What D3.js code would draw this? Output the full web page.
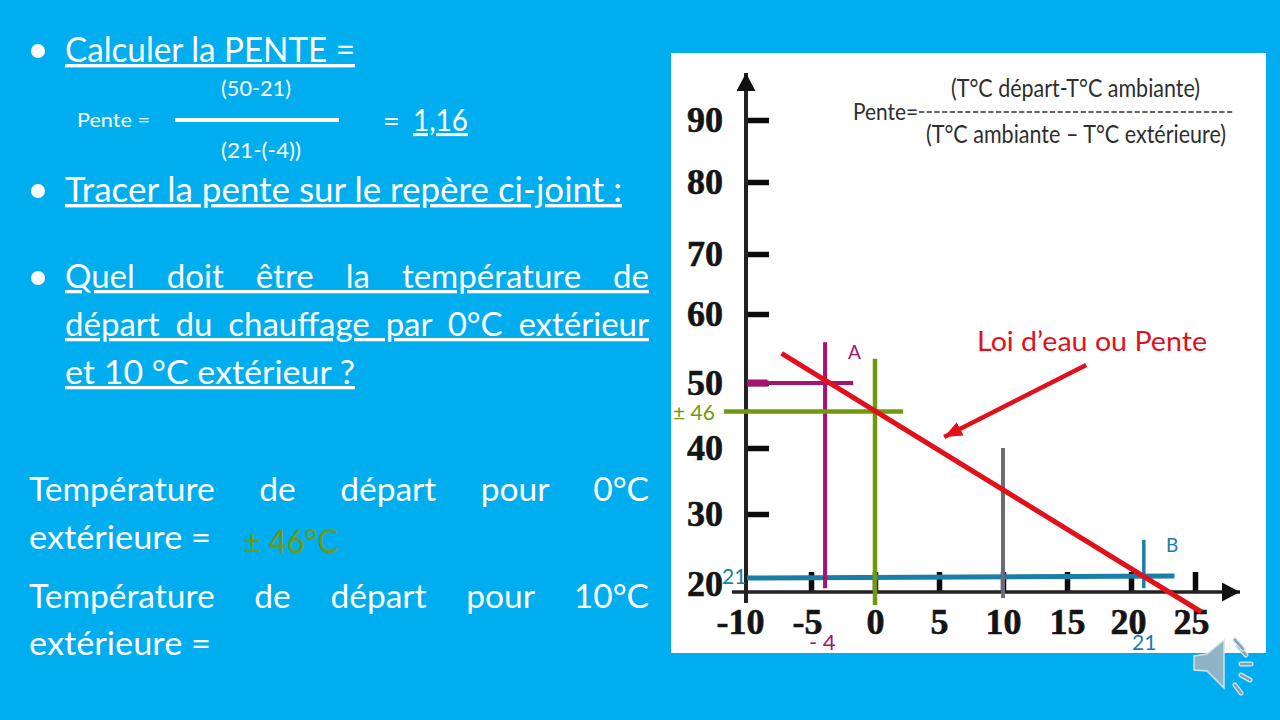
<!DOCTYPE html>
<html><head><meta charset="utf-8">
<script src="https://cdn.jsdelivr.net/npm/d3@7"></script>
<style>html,body{margin:0;padding:0;background:#00ADEF;overflow:hidden}svg{display:block}</style>
</head><body><svg id="c" width="1280" height="720"></svg>
<script>
// Values
const xTicks = [-10,-5,0,5,10,15,20,25];
const yTicks = [20,30,40,50,60,70,80,90];
const yPixelsHandDrawn = [584,514,448,383,314,254,182,120]; // the printed axis is irregular
const redLine = [[-7.3,54.3],[25.5,16]];
const redArrow = [[16.5,52.6],[5.4,41.7]];
const magentaH = [[-10,50],[-1.7,50]];
const magentaV = [[-3.9,55.9],[-3.9,19.4]];
const greenH = [[-11.8,45.6],[2.2,45.6]];
const greenV = [[0,53.5],[0,17]];
const greyV = [[10,40],[10,18]];
const blueH = [[-10,20.85],[23.4,21.15]];
const blueV = [[21,26.3],[21,19.4]];
const FONT = 'Lato, "Open Sans", sans-serif';
const C = {bg:'#00ADEF',red:'#E2101B',mag:'#A5126F',green:'#6F9A10',blue:'#1A7EA8',grey:'#6A6A78'};

const svg = d3.select('#c');
svg.append('rect').attr('width',1280).attr('height',720).attr('fill',C.bg);
svg.append('rect').attr('x',671).attr('y',53).attr('width',595).attr('height',600).attr('fill','#fff');

const defs = svg.append('defs');
[['blk','#111',18,19],['redHead',C.red,18,15]].forEach(([id,col,l,w])=>{
  defs.append('marker').attr('id',id).attr('markerUnits','userSpaceOnUse')
    .attr('viewBox',`0 0 ${l} ${w}`).attr('refX',l).attr('refY',w/2)
    .attr('markerWidth',l).attr('markerHeight',w).attr('orient','auto')
    .append('path').attr('d',`M0,0L${l},${w/2}L0,${w}Z`).attr('fill',col);
});

const x = d3.scaleLinear().domain([-10,25]).range([747,1195]);
const y = d3.scaleLinear().domain(yTicks).range(yPixelsHandDrawn);
const lineGen = d3.line().x(d=>x(d[0])).y(d=>y(d[1]));
const AX_X = 746, AX_Y = 592;

// axes
const gy = svg.append('g').attr('transform',`translate(${AX_X},0)`)
  .call(d3.axisLeft(y).tickValues(yTicks).tickSize(-23).tickPadding(23).tickFormat(d=>String(d)));
const gx = svg.append('g').attr('transform',`translate(0,${AX_Y})`)
  .call(d3.axisBottom(x).tickValues(xTicks).tickSize(-20).tickPadding(16).tickFormat(d=>String(d)));
[gy,gx].forEach(g=>{
  g.select('.domain').remove();
  g.selectAll('line').attr('stroke','#0b0b0b').attr('stroke-width',5.5);
  g.selectAll('text').attr('font-family','"Liberation Serif",serif').attr('font-weight',700)
   .attr('fill','#141414').attr('stroke','#141414').attr('stroke-width',0.6);
});
gy.selectAll('text').attr('font-size',36);
gx.selectAll('text').attr('font-size',36);
gy.selectAll('.tick').filter(d=>d===20).select('line').remove();
gx.selectAll('.tick').filter(d=>d===-10).select('line').remove();
gx.selectAll('.tick').filter(d=>d===-10).select('text').attr('dx',-7);
gx.selectAll('.tick').filter(d=>d===-5).select('text').attr('dx',-4);
gx.selectAll('.tick').filter(d=>d===20).select('text').attr('dx',-3);
gx.selectAll('.tick').filter(d=>d===25).select('text').attr('dx',-4);

svg.append('line').attr('x1',AX_X).attr('x2',AX_X).attr('y1',603).attr('y2',73)
  .attr('stroke','#222').attr('stroke-width',4).attr('marker-end','url(#blk)');
svg.append('line').attr('x1',732).attr('x2',1240).attr('y1',AX_Y).attr('y2',AX_Y)
  .attr('stroke','#222').attr('stroke-width',3.5).attr('marker-end','url(#blk)');

// guide lines
const seg=(d,col,w)=>svg.append('path').datum(d).attr('d',lineGen).attr('fill','none').attr('stroke',col).attr('stroke-width',w);
seg(blueH,C.blue,5);
seg(blueV,C.blue,3.5);
seg(greyV,C.grey,4);
seg(magentaV,C.mag,4);
seg(magentaH,C.mag,4);
seg([[-10,50],[-8.4,50]],C.mag,7);
seg(greenH,C.green,4.5);
seg(greenV,C.green,4.5);
seg(redLine,C.red,5);
seg(redArrow,C.red,4.5).attr('marker-end','url(#redHead)');

// text helpers
function txt(s,px,py,size,col,opt={}){
  const t=svg.append('text').attr('x',px).attr('y',py).attr('font-family',opt.font||FONT)
    .attr('font-size',size).attr('fill',col).text(s);
  if(opt.u) t.attr('text-decoration','underline');
  if(opt.len) t.attr('textLength',opt.len).attr('lengthAdjust','spacingAndGlyphs');
  return t;
}
function just(s,px,py,size,width,col,u){
  const t=txt(s,px,py,size,col,{u});
  const n=s.split(' ').length-1, w=t.node().getComputedTextLength();
  t.attr('word-spacing',(width-w)/n);
  return t;
}

// left column
const W='#fff';
[51,191,278].forEach(cy=>svg.append('circle').attr('cx',38).attr('cy',cy).attr('r',7).attr('fill',W));
txt('Calculer la PENTE =',65,62,34,W,{u:1,len:290});
txt('(50-21)',221,96,21,W,{len:70});
txt('Pente =',77,127,20,W,{len:73});
svg.append('line').attr('x1',175).attr('x2',339).attr('y1',120).attr('y2',120).attr('stroke',W).attr('stroke-width',4);
txt('(21-(-4))',221,158,21,W,{len:80});
txt('=',383,131,29,W);
txt('1,16',413,131,31,W,{u:1,len:55});
txt('Tracer la pente sur le repère ci-joint :',65,202,34,W,{u:1,len:557});
just('Quel doit être la température de',65,288,33,584,W,1);
just('départ du chauffage par 0°C extérieur',65,336,33,584,W,1);
txt('et 10 °C extérieur ?',65,384,33,W,{u:1,len:290});
just('Température de départ pour 0°C',29,501,33.5,620,W);
txt('extérieure =',29,549,33.5,W,{len:182});
txt('± 46°C',243,553,33,C.green,{len:95});
just('Température de départ pour 10°C',29,608,33.5,620,W);
txt('extérieure =',29,655,33.5,W,{len:182});

// chart annotations
txt('(T°C départ-T°C ambiante)',951,97,25,'#2e2e2e',{len:249});
txt('Pente=',853,120,24,'#2e2e2e',{len:65});
svg.append('line').attr('x1',919).attr('x2',1233).attr('y1',112).attr('y2',112)
  .attr('stroke','#333').attr('stroke-width',1.6).attr('stroke-dasharray','5.2,2.5');
txt('(T°C ambiante – T°C extérieure)',926,143,25,'#2e2e2e',{len:300});
txt('Loi d’eau ou Pente',977,351,27,C.red,{len:230});
txt('A',848,359,19,C.mag);
txt('B',1166,552,19,C.blue);
txt('21',722,584,21,C.blue);
txt('- 4',809,650,22,C.mag);
txt('21',1132,650,21,C.blue);
txt('± 46',673,420,21,C.green,{len:42});

// speaker icon
const sp=svg.append('g');
sp.append('path').attr('d','M1194,656L1207,654L1224,640L1224,688L1207,671L1194,670Z')
  .attr('fill','#8FB4C6').attr('stroke','#D4E4EA').attr('stroke-width',1.5);
[[1238,646,1246,655],[1241,664,1251,664],[1241,675,1250,680],[1235,685,1241,693],[1235,640,1243,649]].forEach(d=>{
  sp.append('line').attr('x1',d[0]).attr('y1',d[1]).attr('x2',d[2]).attr('y2',d[3])
    .attr('stroke','#D4E4EA').attr('stroke-width',5).attr('stroke-linecap','round');
  sp.append('line').attr('x1',d[0]).attr('y1',d[1]).attr('x2',d[2]).attr('y2',d[3])
    .attr('stroke','#7FA4B8').attr('stroke-width',2.5).attr('stroke-linecap','round');
});
</script></body></html>
